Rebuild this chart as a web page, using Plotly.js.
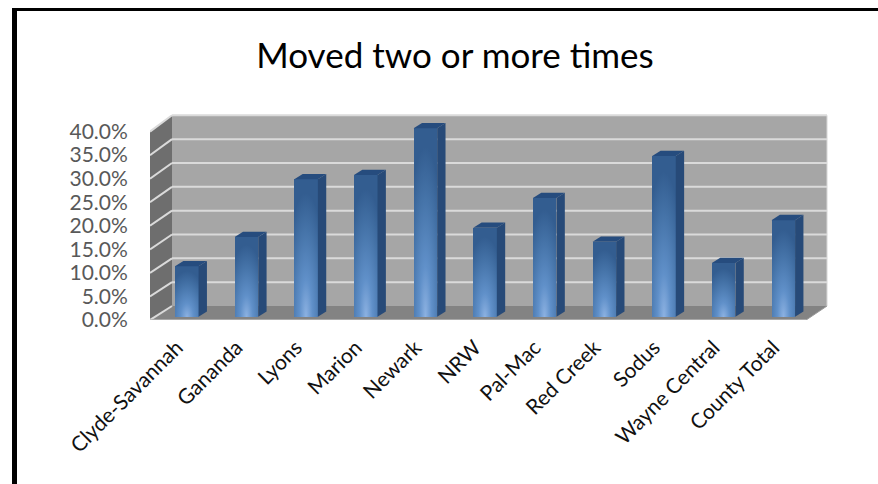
<!DOCTYPE html>
<html><head><meta charset="utf-8">
<script src="https://cdn.plot.ly/plotly-3.0.1.min.js"></script>
<style>
html,body{margin:0;padding:0;background:#fff;width:878px;height:484px;overflow:hidden}
#frame{position:absolute;left:12px;top:8px;right:0;bottom:0;border-left:5px solid #000;border-top:3px solid #000;pointer-events:none;z-index:2}
#chart{position:absolute;left:0;top:0;width:878px;height:484px}
</style></head><body>
<div id="chart"></div><div id="frame"></div>
<script>
const categories = ["Clyde-Savannah","Gananda","Lyons","Marion","Newark","NRW","Pal-Mac","Red Creek","Sodus","Wayne Central","County Total"];
const moved = [0.107,0.169,0.292,0.301,0.400,0.189,0.252,0.159,0.341,0.114,0.205];
const gridValues = [0,0.05,0.10,0.15,0.20,0.25,0.30,0.35,0.40];
const indices = categories.map((_,i)=>i);

// pseudo-3D geometry in data units
const X0=-0.5, X1=10.5, XB0=-0.131, XB1=10.85;
const backY = v => 0.0297 + v*1.0123;      // front-plane value -> back wall height
const barBase=0.007, barShift=0.117, barW=0.395, depthX=0.14, depthY=0.0112;

const poly=(pts,fill)=>({type:'path',xref:'x',yref:'y',layer:'below',fillcolor:fill,line:{width:0},
  path:'M'+pts.map(p=>p[0]+','+p[1]).join('L')+'Z'});
const seg=(a,b,c,w)=>({type:'line',xref:'x',yref:'y',layer:'below',x0:a[0],y0:a[1],x1:b[0],y1:b[1],line:{color:c,width:w}});

const shapes=[
  poly([[XB0,backY(0)],[XB1,backY(0)],[XB1,backY(.4)],[XB0,backY(.4)]],'#a6a6a6'),
  poly([[X0,0],[XB0,backY(0)],[XB0,backY(.4)],[X0,.4]],'#6e6e6e'),
  poly([[X0,0],[X1,0],[XB1,backY(0)],[XB0,backY(0)]],'#838383')
];
gridValues.forEach(v=>{
  if(v>0) shapes.push(seg([XB0,backY(v)],[XB1,backY(v)],'#dadada',2));
  shapes.push(seg([X0,v],[XB0,backY(v)],'#dadada',2));
});
shapes.push(seg([XB1,backY(0)],[XB1,backY(.4)],'#d9d9d9',1));
shapes.push(seg([XB1,backY(0)],[X1,0],'#9a9a9a',1));
shapes.push(seg([X0,0],[X1,0],'#b5b5b5',1.5));

const face=(xs,ys,c)=>({type:'scatter',mode:'lines',x:xs,y:ys,fill:'toself',fillcolor:c,line:{width:0,color:c},hoverinfo:'skip',showlegend:false});
const sides=[],tops=[];
indices.forEach(i=>{
  const r=i+barShift+barW/2,l=i+barShift-barW/2,t=barBase+moved[i],b=barBase;
  sides.push(face([r,r+depthX,r+depthX,r,r],[b,b+depthY,t+depthY,t,b],'#274a78'));
  tops.push(face([l,r,r+depthX,l+depthX,l],[t,t,t+depthY,t+depthY,t],'#264c7e'));
});

const front={type:'bar',x:indices.map(i=>i+barShift),y:moved,base:barBase,width:barW,
  marker:{color:'#4a7cb8',line:{width:0}},showlegend:false,
  hovertemplate:'%{customdata}: %{y:.1%}<extra></extra>',customdata:categories};

const layout={
  width:878,height:484,paper_bgcolor:'#fff',plot_bgcolor:'rgba(0,0,0,0)',showlegend:false,
  margin:{l:150,r:48,t:112,b:164,pad:0},
  title:{text:'Moved two or more times',x:455/878,xanchor:'center',y:1-56/484,yanchor:'middle',
    font:{family:'Lato, sans-serif',size:35,color:'#000'}},
  xaxis:{range:[-0.5,10.90],tickmode:'array',tickvals:indices.map(i=>i-0.05),ticktext:categories,tickangle:-45,
    showgrid:false,zeroline:false,showline:false,ticks:'outside',ticklen:6,tickcolor:'rgba(0,0,0,0)',
    tickfont:{family:'Lato, sans-serif',size:21,color:'#111'}},
  yaxis:{range:[0,0.4416],tickmode:'array',tickvals:gridValues,tickformat:'.1%',
    showgrid:false,zeroline:false,showline:false,ticks:'outside',ticklen:17,tickcolor:'rgba(0,0,0,0)',
    tickfont:{family:'Lato, sans-serif',size:21,color:'#595959'}},
  shapes:shapes,bargap:0
};

Plotly.newPlot('chart',[front,...sides,...tops],layout,{displayModeBar:false}).then(gd=>{
  const svg=gd.querySelector('.main-svg');
  const ns='http://www.w3.org/2000/svg';
  let defs=svg.querySelector('defs');
  const g=document.createElementNS(ns,'radialGradient');
  g.setAttribute('id','barGrad');g.setAttribute('cx','0.5');g.setAttribute('cy','1');g.setAttribute('r','0.9');
  [[0,'#8db2e2'],[0.3,'#6090c9'],[0.7,'#4573a8'],[1,'#335d90']].forEach(s=>{
    const st=document.createElementNS(ns,'stop');st.setAttribute('offset',s[0]);st.setAttribute('stop-color',s[1]);g.appendChild(st);
  });
  defs.appendChild(g);
  gd.querySelectorAll('.barlayer .point path').forEach(p=>{p.style.fill='url(#barGrad)';});
});
</script></body></html>
